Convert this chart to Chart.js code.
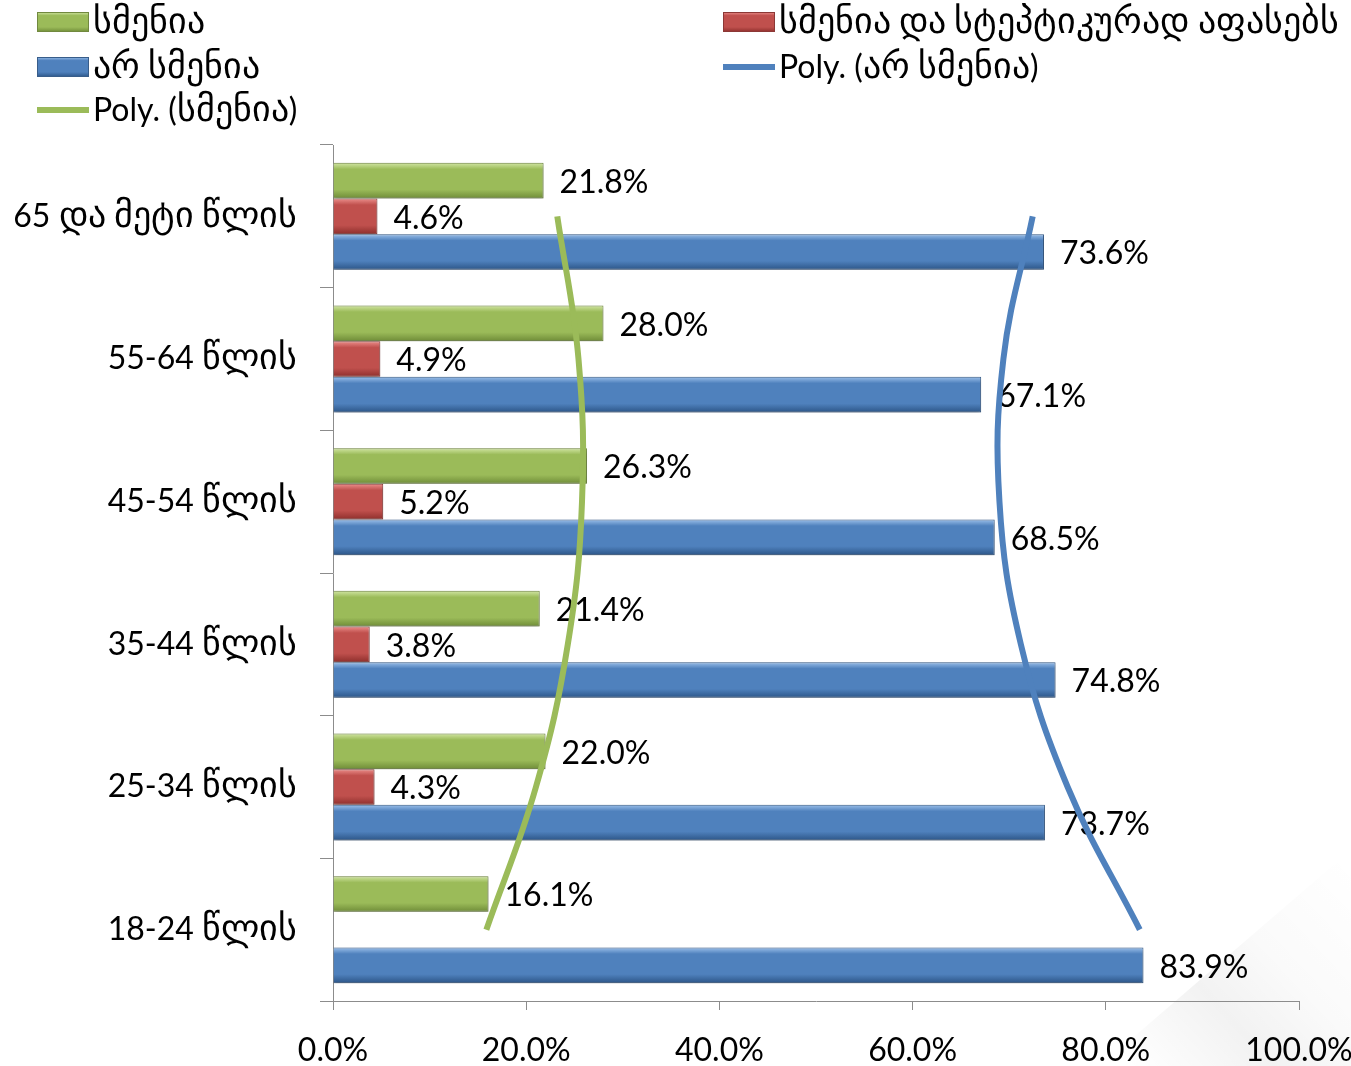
<!DOCTYPE html>
<html>
<head>
<meta charset="utf-8">
<script src="https://cdn.jsdelivr.net/npm/chart.js@4.4.1/dist/chart.umd.min.js"></script>
<style>
  @font-face {
    font-family: 'GeoText';
    src: local('DejaVu Sans');
    unicode-range: U+10A0-10FF;
    size-adjust: 112%;
  }
  html, body { margin: 0; padding: 0; background: #fff; }
  canvas { display: block; }
</style>
</head>
<body>
<canvas id="chart" width="1351" height="1066"></canvas>
<script>
// categories top to bottom, as in the picture
const categories = ['65 და მეტი წლის', '55-64 წლის', '45-54 წლის', '35-44 წლის', '25-34 წლის', '18-24 წლის']
const heardValues = [21.8, 28.0, 26.3, 21.4, 22.0, 16.1]
const skepticalValues = [4.6, 4.9, 5.2, 3.8, 4.3, null]
const notHeardValues = [73.6, 67.1, 68.5, 74.8, 73.7, 83.9]
const xTicks = [0, 20, 40, 60, 80, 100]
const seriesLabels = ['სმენია', 'სმენია და სტეპტიკურად აფასებს', 'არ სმენია']
const trendLabels = ['Poly. (სმენია)', 'Poly. (არ სმენია)']

const fontFamily = 'GeoText, Lato, "DejaVu Sans", sans-serif'
const axisColor = '#8c8c8c'

const tones = {
  green: { light: '#d2e6a4', base: '#9bbb59', dark: '#6f8c38', border: '#71893f' },
  red: { light: '#ec8f8c', base: '#c0504d', dark: '#8e2f2c', border: '#8c3836' },
  blue: { light: '#9cc0ea', base: '#4f81bd', dark: '#2c5587', border: '#385d8a' }
}

// Excel style order 2 polynomial trendline, fitted on the series values,
// evaluated at each category
function polyTrend(values) {
  const s = [0, 0, 0, 0, 0]
  const t = [0, 0, 0]
  values.forEach((v, i) => {
    if (v == null) return
    for (let k = 0; k < 5; k++) s[k] += Math.pow(i, k)
    for (let k = 0; k < 3; k++) t[k] += Math.pow(i, k) * v
  })
  const m = [[s[0], s[1], s[2], t[0]], [s[1], s[2], s[3], t[1]], [s[2], s[3], s[4], t[2]]]
  for (let c = 0; c < 3; c++) {
    for (let r = c + 1; r < 3; r++) {
      const f = m[r][c] / m[c][c]
      for (let k = c; k < 4; k++) m[r][k] -= f * m[c][k]
    }
  }
  const coef = [0, 0, 0]
  for (let r = 2; r >= 0; r--) {
    let sum = m[r][3]
    for (let k = r + 1; k < 3; k++) sum -= m[r][k] * coef[k]
    coef[r] = sum / m[r][r]
  }
  return values.map((v, i) => ({ x: coef[0] + coef[1] * i + coef[2] * i * i, y: categories[i] }))
}

function barGradient(ctx, top, bottom, tone) {
  const c = tones[tone]
  const g = ctx.createLinearGradient(0, top, 0, bottom)
  g.addColorStop(0, c.light)
  g.addColorStop(0.18, c.base)
  g.addColorStop(0.75, c.base)
  g.addColorStop(1, c.dark)
  return g
}

const backgroundPlugin = {
  id: 'backgroundDeco',
  beforeDraw(chart) {
    const ctx = chart.ctx
    ctx.save()
    ctx.fillStyle = '#fff'
    ctx.fillRect(0, 0, chart.width, chart.height)
    const g = ctx.createLinearGradient(1130, 1066, 1351, 860)
    g.addColorStop(0, 'rgba(0,0,0,0.0)')
    g.addColorStop(0.35, 'rgba(0,0,0,0.05)')
    g.addColorStop(0.6, 'rgba(0,0,0,0.02)')
    g.addColorStop(1, 'rgba(0,0,0,0.0)')
    ctx.fillStyle = g
    ctx.beginPath()
    ctx.moveTo(1100, 1066)
    ctx.lineTo(1351, 850)
    ctx.lineTo(1351, 1066)
    ctx.closePath()
    ctx.fill()
    ctx.restore()
  }
}

const barStylePlugin = {
  id: 'barStyle',
  beforeDatasetDraw(chart, args) {
    const ds = chart.data.datasets[args.index]
    if (!ds.tone) return
    const ctx = chart.ctx
    args.meta.data.forEach(el => {
      const top = el.y - el.height / 2
      const bottom = el.y + el.height / 2
      el.options = Object.assign({}, el.options, { backgroundColor: barGradient(ctx, top, bottom, ds.tone) })
    })
    ctx.save()
    ctx.shadowColor = 'rgba(0,0,0,0.3)'
    ctx.shadowBlur = 4
    ctx.shadowOffsetY = 2
  },
  afterDatasetDraw(chart, args) {
    const ds = chart.data.datasets[args.index]
    if (!ds.tone) return
    const ctx = chart.ctx
    ctx.restore()
    // value labels, drawn before the trendlines so the lines cross them
    ctx.save()
    ctx.font = '32px ' + fontFamily
    ctx.fillStyle = '#000'
    ctx.textAlign = 'left'
    ctx.textBaseline = 'middle'
    args.meta.data.forEach((el, i) => {
      const v = ds.data[i]
      if (v == null) return
      ctx.fillText(v.toFixed(1) + '%', el.x + 16, el.y + 2)
    })
    ctx.restore()
  }
}

const legendPlugin = {
  id: 'columnLegend',
  afterDraw(chart) {
    const ctx = chart.ctx
    const items = [
      { text: seriesLabels[0], tone: 'green', kind: 'box', x: 37, y: 22 },
      { text: seriesLabels[2], tone: 'blue', kind: 'box', x: 37, y: 67 },
      { text: trendLabels[0], tone: 'green', kind: 'line', x: 37, y: 110 },
      { text: seriesLabels[1], tone: 'red', kind: 'box', x: 723, y: 22 },
      { text: trendLabels[1], tone: 'blue', kind: 'line', x: 723, y: 67 }
    ]
    ctx.save()
    items.forEach(it => {
      if (it.kind === 'box') {
        ctx.fillStyle = barGradient(ctx, it.y - 10, it.y + 10, it.tone)
        ctx.fillRect(it.x, it.y - 10, 52, 20)
        ctx.strokeStyle = tones[it.tone].border
        ctx.lineWidth = 1
        ctx.strokeRect(it.x + 0.5, it.y - 9.5, 51, 19)
      } else {
        ctx.fillStyle = tones[it.tone].base
        ctx.fillRect(it.x, it.y - 3, 52, 6)
      }
      ctx.font = '32px ' + fontFamily
      ctx.fillStyle = '#000'
      ctx.textAlign = 'left'
      ctx.textBaseline = 'middle'
      ctx.fillText(it.text, it.x + 56, it.y + 1)
    })
    ctx.restore()
  }
}

function drawChart() {
  const ctx = document.getElementById('chart').getContext('2d')
  new Chart(ctx, {
    type: 'bar',
    data: {
      labels: categories,
      datasets: [
        { label: seriesLabels[0], data: heardValues, tone: 'green', backgroundColor: tones.green.base, borderColor: tones.green.border, borderWidth: 1 },
        { label: seriesLabels[1], data: skepticalValues, tone: 'red', backgroundColor: tones.red.base, borderColor: tones.red.border, borderWidth: 1 },
        { label: seriesLabels[2], data: notHeardValues, tone: 'blue', backgroundColor: tones.blue.base, borderColor: tones.blue.border, borderWidth: 1 },
        // trendlines share the category axis so the bar grouping is not split
        { type: 'line', label: trendLabels[0], data: polyTrend(heardValues), borderColor: tones.green.base, borderWidth: 6, pointRadius: 0, tension: 0.4, fill: false, order: -1 },
        { type: 'line', label: trendLabels[1], data: polyTrend(notHeardValues), borderColor: tones.blue.base, borderWidth: 6, pointRadius: 0, tension: 0.4, fill: false, order: -1 }
      ]
    },
    options: {
      indexAxis: 'y',
      responsive: false,
      animation: false,
      categoryPercentage: 0.75,
      barPercentage: 1,
      layout: { padding: { top: 145, right: 52, bottom: 0, left: 0 } },
      plugins: {
        legend: { display: false },
        tooltip: { enabled: false }
      },
      scales: {
        x: {
          min: 0,
          max: 100,
          afterBuildTicks: scale => { scale.ticks = xTicks.map(v => ({ value: v })) },
          ticks: {
            callback: v => v.toFixed(1) + '%',
            font: { family: fontFamily, size: 32 },
            color: '#000',
            padding: 21,
            maxRotation: 0,
            autoSkip: false
          },
          grid: { drawOnChartArea: false, drawTicks: true, tickLength: 9, color: axisColor },
          border: { color: axisColor },
          afterFit: scale => { scale.height = 65; scale.paddingLeft = 0; scale.paddingRight = 0 }
        },
        y: {
          ticks: {
            font: { family: fontFamily, size: 32 },
            color: '#000',
            padding: 23
          },
          grid: { offset: true, drawOnChartArea: false, drawTicks: true, tickLength: 13, color: axisColor },
          border: { color: axisColor },
          afterFit: scale => { scale.width = 333; scale.paddingTop = 0; scale.paddingBottom = 0 }
        }
      }
    },
    plugins: [backgroundPlugin, barStylePlugin, legendPlugin]
  })
}

document.fonts.load('32px GeoText', 'სმენია').then(drawChart, drawChart)
</script>
</body>
</html>
